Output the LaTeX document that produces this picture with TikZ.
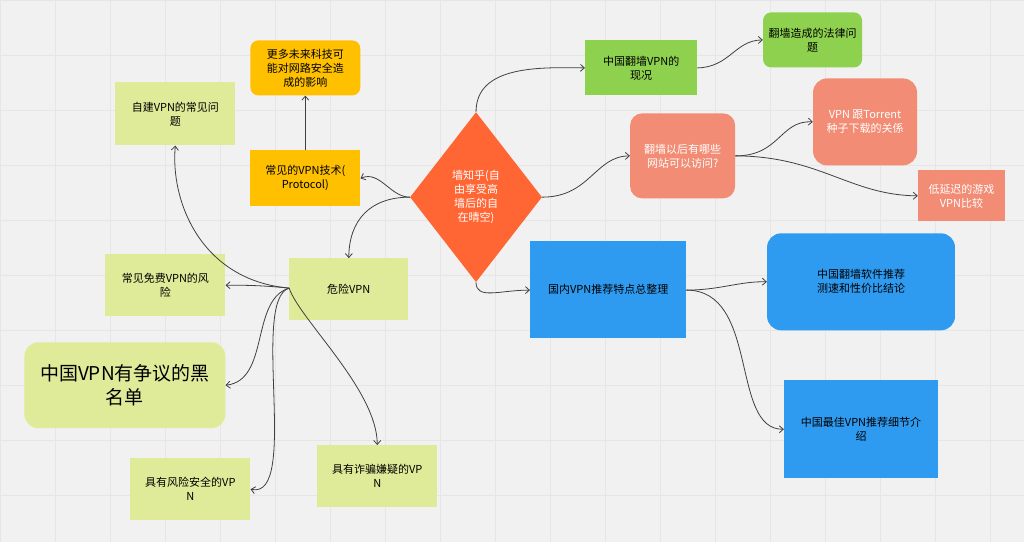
\documentclass[tikz,border=0pt]{standalone}
\usepackage{fontspec}
\setmainfont{Noto Sans CJK SC}
\usetikzlibrary{arrows.meta,shapes.geometric}
\definecolor{bg}{HTML}{F1F1F1}
\definecolor{gridc}{HTML}{E6E6E6}
\definecolor{lime}{HTML}{DFEB98}
\definecolor{gold}{HTML}{FFC000}
\definecolor{grn}{HTML}{8DD14F}
\definecolor{sal}{HTML}{F28C74}
\definecolor{org}{HTML}{FF6633}
\definecolor{blu}{HTML}{2E9BF0}
\begin{document}
\begin{tikzpicture}[x=1pt,y=-1pt,
  box/.style={draw=none,align=center,font=\fontsize{11}{14}\selectfont,inner sep=2pt},
  con/.style={draw=black!75,line width=0.8pt,-{Straight Barb[length=4pt,width=7pt]}}]
\fill[bg] (0,0) rectangle (1024,542);
\foreach \x in {0,55,...,1024} \draw[gridc,line width=0.5pt] (\x,0)--(\x,542);
\foreach \y in {0,55,...,542} \draw[gridc,line width=0.5pt] (0,\y)--(1024,\y);
\useasboundingbox (0,0) rectangle (1024,542);
\newcommand\bx[7]{\node[box,fill=#6,minimum width=#5-#3,minimum height=#4-#2,anchor=north west,#7] (#1) at (#3,#2)}
\bx{top}{40}{250}{95}{360}{gold}{rounded corners=8pt}{更多未来科技可\\能对网路安全造\\成的影响};
\bx{tech}{150}{250}{206}{360}{gold}{}{常见的VPN技术(\\Protocol)};
\bx{self}{82}{115}{145}{235}{lime}{}{自建VPN的常见问\\题};
\bx{danger}{258}{289}{320}{408}{lime}{}{危险VPN};
\bx{free}{254}{105}{316}{225}{lime}{}{常见免费VPN的风\\险};
\bx{black}{342}{24}{428}{225}{lime}{rounded corners=14pt,font=\fontsize{19}{24}\selectfont}{中国VPN有争议的黑\\名单};
\bx{risk}{458}{130}{520}{250}{lime}{}{具有风险安全的VP\\N};
\bx{fraud}{445}{317}{507}{437}{lime}{}{具有诈骗嫌疑的VP\\N};
\bx{now}{40}{585}{95}{697}{grn}{}{中国翻墙VPN的\\现况};
\bx{law}{12}{763}{67}{862}{grn}{rounded corners=8pt}{翻墙造成的法律问\\题};
\bx{sites}{113}{630}{198}{735}{sal}{rounded corners=12pt,text=white}{翻墙以后有哪些\\网站可以访问?};
\bx{torrent}{78}{813}{165}{917}{sal}{rounded corners=14pt,text=white}{VPN 跟Torrent\\种子下载的关係};
\bx{game}{170}{918}{221}{1005}{sal}{text=white}{低延迟的游戏\\VPN比较};
\bx{dom}{241}{530}{338}{686}{blu}{}{国内VPN推荐特点总整理};
\bx{soft}{233}{767}{330}{955}{blu}{rounded corners=14pt}{中国翻墙软件推荐\\测速和性价比结论};
\bx{best}{380}{784}{478}{938}{blu}{}{中国最佳VPN推荐细节介\\绍};
\node[diamond,fill=org,minimum width=132pt,minimum height=170pt,aspect=0.78,inner sep=0pt] (main) at (476,197) {};
\node[text=white,align=center,font=\fontsize{11}{14}\selectfont] (mt) at (476,197) {墙知乎(自\\由享受高\\墙后的自\\在晴空)};
% connectors
\draw[con] (main.north) .. controls (476,65) and (540,67) .. (now.west);
\draw[con] (now.east) .. controls (730,67) and (735,40) .. (law.west);
\draw[con] (main.east) .. controls (590,197) and (595,156) .. (sites.west);
\draw[con] (sites.east) .. controls (780,156) and (780,120) .. (torrent.west);
\draw[con] (sites.east) .. controls (820,156) and (850,195) .. (game.west);
\draw[con] (main.south) .. controls (476,300) and (500,290) .. (dom.west|-0,290);
\draw[con] (dom.east|-0,290) .. controls (720,290) and (740,281) .. (soft.west);
\draw[con] (dom.east|-0,290) .. controls (760,290) and (730,430) .. (best.west);
\draw[con] (main.west) .. controls (390,197) and (380,170) .. (tech.east);
\draw[con] (main.west) .. controls (370,197) and (349,220) .. (danger.north);
\draw[con] (tech.north) -- (top.south);
\coordinate (d) at (289,288);
\draw[con] (d) .. controls (200,280) and (170,200) .. (self.south);
\draw[con] (d) .. controls (260,285) and (240,285) .. (free.east);
\draw[con] (d) .. controls (250,300) and (270,380) .. (black.east);
\draw[con] (d) .. controls (250,300) and (300,500) .. (risk.east);
\draw[con] (d) .. controls (300,320) and (377,390) .. (fraud.north);
\end{tikzpicture}
\end{document}
